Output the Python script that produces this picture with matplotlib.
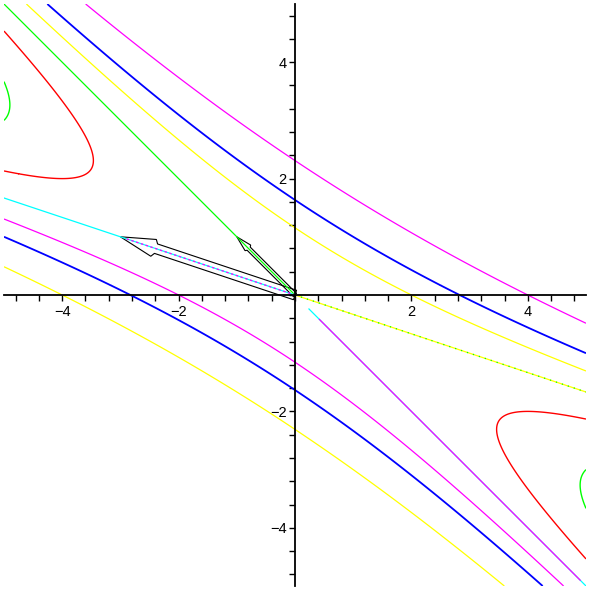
import numpy as np
import matplotlib
matplotlib.use('Agg')
import matplotlib.pyplot as plt
from matplotlib.patches import Polygon
from matplotlib.ticker import MultipleLocator, FixedLocator

plt.rcParams['font.family'] = ['Liberation Sans', 'DejaVu Sans']

# quadratic form q(x,y) = a x^2 + b xy + c y^2
qa, qb, qc = 1.0, 4.0, 3.0

# contour levels, colour of each branch
pos_levels = [4, 8, 16]
pos_upper_colors = ['#ffff00', '#0000ff', '#ff00ff']
pos_lower_colors = ['#ff00ff', '#0000ff', '#ffff00']
pos_widths = [0.9, 1.3, 0.9]
neg_levels = [-8, -4]
neg_colors = ['#00ff00', '#ff0000']

# eigen-ish directions drawn as arrows from the origin
arrow_vecs = [(-3, 1), (-1, 1)]

# pieces of the zero contour: direction, t start, t end, colour, dashes
zero_pieces = [
    ((-1, 1), 0, 5, '#00ff00', None),
    ((-1, 1), -0.24, -5, '#00ffff', None),
    ((-1, 1), -0.42, -4.9, '#ff00ff', None),
    ((-3, 1), 0, 5 / 3, '#00ffff', None),
    ((-3, 1), 0, 0.97, '#ff00ff', (2, 2)),
    ((-3, 1), 0, -5 / 3, '#ffff00', None),
    ((-3, 1), 0, -5 / 3, '#00ff00', (1, 4)),
]

fig = plt.figure(figsize=(5.9, 5.9), dpi=100)
ax = fig.add_axes([4 / 590, 4 / 590, 582 / 590, 582 / 590])
ax.set_xlim(-5, 5)
ax.set_ylim(-5, 5)

g = np.linspace(-5, 5, 601)
X, Y = np.meshgrid(g, g)
Z = qa * X**2 + qb * X * Y + qc * Y**2

s = X + Y
ax.contour(X, Y, np.ma.masked_where(s < 0, Z), levels=pos_levels,
           colors=pos_upper_colors, linewidths=pos_widths, zorder=3)
ax.contour(X, Y, np.ma.masked_where(s > 0, Z), levels=pos_levels,
           colors=pos_lower_colors, linewidths=pos_widths, zorder=3)
ax.contour(X, Y, np.ma.masked_where(s > 0, Z), levels=neg_levels,
           colors=neg_colors, linewidths=1.0, zorder=3)
ax.contour(X, Y, np.ma.masked_where(s < 0, Z), levels=neg_levels,
           colors=neg_colors, linewidths=1.0, zorder=3)

for d, t0, t1, col, dash in zero_pieces:
    t = np.array([t0, t1])
    ln, = ax.plot(t * d[0], t * d[1], color=col, lw=0.9, zorder=4)
    if dash is not None:
        ln.set_dashes(dash)


def arrow_outline(vx, vy):
    L = np.hypot(vx, vy)
    u = np.array([vx, vy]) / L
    n = np.array([-u[1], u[0]])
    w, hw, hl, nt = 0.027 * L, 0.048 * L, 0.19 * L, 0.014 * L
    sp = [(0, w), (L - hl - nt, w), (L - hl, hw), (L, 0),
          (L - hl, -hw), (L - hl - nt, -w), (0, -w)]
    return [a * u + b * n for a, b in sp]


for vx, vy in arrow_vecs:
    ax.add_patch(Polygon(arrow_outline(vx, vy), closed=True, fill=False,
                         ec='black', lw=0.8, zorder=2))

for side in ['top', 'right']:
    ax.spines[side].set_visible(False)
ax.spines['left'].set_position('zero')
ax.spines['bottom'].set_position('zero')
for side in ['left', 'bottom']:
    ax.spines[side].set_linewidth(1.3)
    ax.spines[side].set_zorder(5)

ax.xaxis.set_major_locator(FixedLocator([-4, -2, 2, 4]))
ax.yaxis.set_major_locator(FixedLocator([-4, -2, 2, 4]))
ax.xaxis.set_minor_locator(MultipleLocator(0.4))
ax.yaxis.set_minor_locator(MultipleLocator(0.4))
ax.tick_params(which='both', direction='out', length=4, width=1, color='black')
ax.tick_params(axis='x', which='major', pad=3, labelsize=10.5)
ax.tick_params(axis='y', which='major', pad=2, labelsize=10.5)

fig.savefig('out.png', dpi=100)
